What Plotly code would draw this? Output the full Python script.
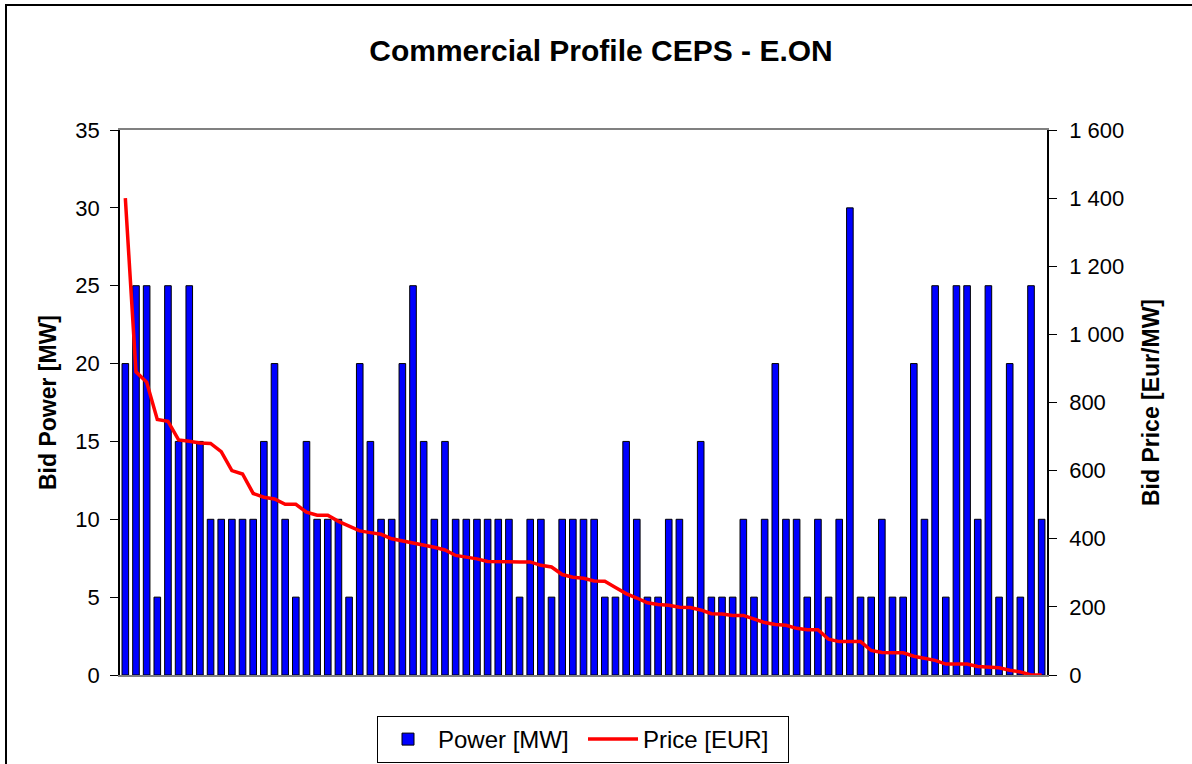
import plotly.graph_objects as go

# ---- data ----
bid_index = list(range(1, 88))
power_mw = [20, 25, 25, 5, 25, 15, 25, 15, 10, 10, 10, 10, 10, 15, 20, 10, 5, 15, 10, 10,
            10, 5, 20, 15, 10, 10, 20, 25, 15, 10, 15, 10, 10, 10, 10, 10, 10, 5, 10, 10,
            5, 10, 10, 10, 10, 5, 5, 15, 10, 5, 5, 10, 10, 5, 15, 5, 5, 5, 10, 5,
            10, 20, 10, 10, 5, 10, 5, 10, 30, 5, 5, 10, 5, 5, 20, 10, 25, 5, 25, 25,
            10, 25, 5, 20, 5, 25, 10]
price_eur = [1400, 890, 860, 750, 745, 690, 686, 681, 680, 656, 600, 590, 533, 522, 517, 501, 501, 478, 469, 469,
             451, 437, 423, 418, 413, 400, 394, 389, 383, 375, 367, 351, 346, 341, 333, 332, 332, 332, 332, 322,
             317, 295, 287, 284, 276, 275, 257, 239, 226, 212, 207, 205, 199, 198, 191, 180, 179, 175, 175, 164,
             154, 148, 146, 137, 133, 133, 105, 98, 98, 98, 72, 66, 65, 65, 55, 49, 43, 32, 32, 32,
             25, 22, 21, 14, 9, 0, 0]
left_ticks = [0, 5, 10, 15, 20, 25, 30, 35]
right_ticks = [0, 200, 400, 600, 800, 1000, 1200, 1400, 1600]
right_ticktext = ["0", "200", "400", "600", "800", "1 000", "1 200", "1 400", "1 600"]

FONT = "Liberation Sans, Arial, sans-serif"

fig = go.Figure()
fig.add_trace(go.Bar(
    x=bid_index, y=power_mw, name="Power [MW]",
    marker=dict(color="#0000FF", line=dict(color="#000000", width=1)),
    yaxis="y",
))
fig.add_trace(go.Scatter(
    x=bid_index, y=price_eur, name="Price [EUR]", mode="lines",
    line=dict(color="#FF0000", width=3.5),
    yaxis="y2",
))

W, H = 1192, 764
L, R, T, B = 120, 1047, 130, 675
pw, ph = R - L, B - T

def px_x(x):
    return (x - L) / pw

def px_y(y):
    return (B - y) / ph

fig.update_layout(
    width=W, height=H,
    margin=dict(l=L, r=W - R, t=T, b=H - B, pad=0, autoexpand=False),
    paper_bgcolor="white", plot_bgcolor="white",
    font=dict(family=FONT, size=22, color="black"),
    title=dict(text="<b>Commercial Profile CEPS - E.ON</b>", x=601 / W, xref="container",
               xanchor="center", y=1 - 50 / H, yref="container", yanchor="middle",
               font=dict(size=30, family=FONT, color="black")),
    bargap=0.38,
    showlegend=True,
    legend=dict(orientation="h", x=583 / W, xref="container", xanchor="center",
                y=1 - 716 / H, yref="container", yanchor="top",
                bordercolor="black", borderwidth=1, bgcolor="white",
                font=dict(size=24, family=FONT), traceorder="normal",
                entrywidth=140, itemwidth=50),
    xaxis=dict(range=[0.5, 87.5], showticklabels=False, ticks="", showgrid=False,
               zeroline=False, showline=True, linecolor="#808080", linewidth=1.5, mirror=True,
               fixedrange=True),
    yaxis=dict(range=[0, 35], tickvals=left_ticks, showgrid=False, zeroline=False,
               showline=True, linecolor="black", linewidth=1.5, ticks="outside", ticklen=8,
               tickcolor="black", tickfont=dict(size=22), ticklabelstandoff=6,
               title=dict(text="<b>Bid Power [MW]</b>", font=dict(size=23), standoff=12)),
    yaxis2=dict(range=[0, 1600], tickvals=right_ticks, ticktext=right_ticktext, overlaying="y",
                side="right", showgrid=False, zeroline=False, showline=True, linecolor="black",
                linewidth=1.5, ticks="outside", ticklen=8, tickcolor="black",
                tickfont=dict(size=22), ticklabelstandoff=8,
                title=dict(text="<b>Bid Price [Eur/MW]</b>", font=dict(size=23), standoff=20)),
    shapes=[dict(type="rect", xref="paper", yref="paper",
                 x0=px_x(6), x1=px_x(1200), y0=px_y(775), y1=px_y(5),
                 line=dict(color="black", width=2), fillcolor="rgba(0,0,0,0)", layer="below")],
)

fig.write_html("out.html", config={"displayModeBar": False},
               post_script="document.body.style.margin='0';document.body.style.overflow='hidden';")
